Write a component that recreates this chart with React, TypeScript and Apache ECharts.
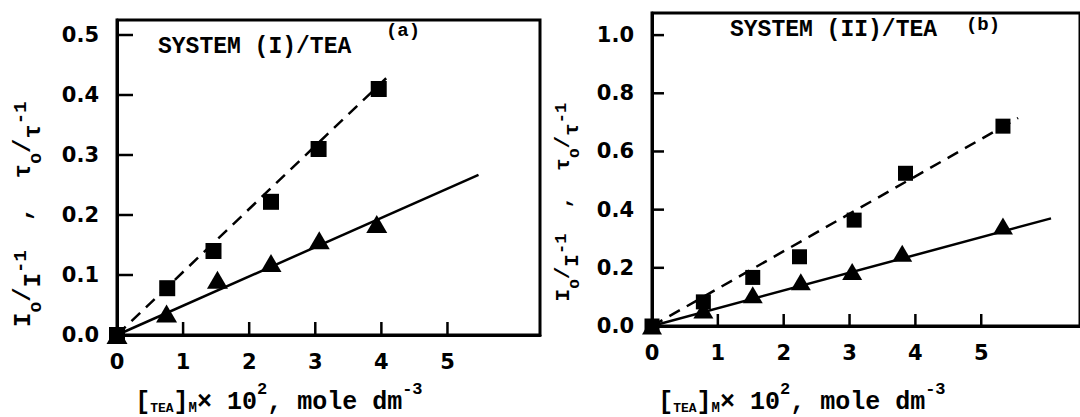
import React, { useEffect, useRef } from "react";
import * as echarts from "echarts";

// ---------- data ----------
const xTickLabels = [0, 1, 2, 3, 4, 5];
const xTickMarks = [1, 2, 3, 4, 5];
const yTickLabelsA = [0, 0.1, 0.2, 0.3, 0.4, 0.5];
const yTickMarksA = [0.1, 0.2, 0.3, 0.4, 0.5];
const yTickLabelsB = [0, 0.2, 0.4, 0.6, 0.8, 1.0];
const yTickMarksB = [0.2, 0.4, 0.6, 0.8, 1.0];

// panel (a) SYSTEM (I)/TEA
const teaA_sq = [0, 0.76, 1.46, 2.33, 3.05, 3.96];
const valA_sq = [0, 0.078, 0.14, 0.222, 0.31, 0.41];
const teaA_tri = [0, 0.75, 1.52, 2.33, 3.06, 3.93];
const valA_tri = [0, 0.036, 0.092, 0.12, 0.158, 0.185];
const fitA_dashX = [0, 4.14];
const fitA_dashY = [0, 0.435];
const fitA_solidX = [0, 5.47];
const fitA_solidY = [0, 0.267];

// panel (b) SYSTEM (II)/TEA
const teaB_sq = [0, 0.78, 1.53, 2.24, 3.07, 3.85, 5.33];
const valB_sq = [0, 0.083, 0.167, 0.238, 0.364, 0.525, 0.687];
const teaB_tri = [0, 0.78, 1.53, 2.26, 3.04, 3.8, 5.33];
const valB_tri = [0, 0.055, 0.107, 0.152, 0.187, 0.25, 0.344];
const fitB_dashX = [0, 5.56];
const fitB_dashY = [0, 0.715];
const fitB_solidX = [0, 6.06];
const fitB_solidY = [0, 0.37];

const zip = (xs: number[], ys: number[]) => xs.map((x, i) => [x, ys[i]]);

const MONO = "Liberation Mono";
const TICKFONT = "DejaVu Sans";

const near = (a: number, list: number[]) => list.some((b) => Math.abs(a - b) < 1e-6);

function xAxisCfg(grid: number, max: number) {
  return {
    type: "value",
    gridIndex: grid,
    min: 0,
    max,
    interval: 1,
    axisLine: { show: true, onZero: false, lineStyle: { color: "#000", width: 3 } },
    axisTick: { show: false },
    axisLabel: {
      margin: 16,
      color: "#000",
      fontFamily: TICKFONT,
      fontWeight: "bold",
      fontSize: 21,
      showMaxLabel: false,
      formatter: (v: number) => (near(v, xTickLabels) ? String(v) : ""),
    },
    splitLine: { show: false },
  };
}

function yAxisCfg(grid: number, max: number, interval: number, labels: number[]) {
  return {
    type: "value",
    gridIndex: grid,
    min: 0,
    max,
    interval,
    axisLine: { show: true, onZero: false, lineStyle: { color: "#000", width: 3 } },
    axisTick: { show: false },
    axisLabel: {
      margin: 18,
      color: "#000",
      fontFamily: TICKFONT,
      fontWeight: "bold",
      fontSize: 21,
      showMaxLabel: false,
      formatter: (v: number) => (near(v, labels) ? v.toFixed(1) : ""),
    },
    splitLine: { show: false },
  };
}

// inward tick marks drawn as thin bar-shaped symbols anchored on the axes
function tickMarkSeries(grid: number, values: number[], dir: string, len: number) {
  return {
    type: "scatter",
    xAxisIndex: grid,
    yAxisIndex: grid,
    silent: true,
    data: values.map((v) => (dir === "x" ? [v, 0] : [0, v])),
    symbol: "rect",
    symbolSize: dir === "x" ? [2.5, len] : [len, 2.5],
    symbolOffset: dir === "x" ? [0, "-50%"] : ["50%", 0],
    itemStyle: { color: "#000", opacity: 1 },
    z: 4,
  };
}

function yNameRich(main: number, sub: number, sup: number, block: number) {
  return {
    m: { fontFamily: MONO, fontWeight: "bold", fontSize: main, lineHeight: main, verticalAlign: "top", fill: "#000" },
    d: { fontFamily: MONO, fontWeight: "bold", fontSize: main, lineHeight: main, verticalAlign: "bottom", fill: "#000" },
    s: { fontFamily: MONO, fontWeight: "bold", fontSize: sub, lineHeight: sub, verticalAlign: "bottom", fill: "#000" },
    p: { fontFamily: MONO, fontWeight: "bold", fontSize: sup, lineHeight: sup, verticalAlign: "top", fill: "#000" },
    sp: { fontSize: 1, lineHeight: block },
  };
}
const yNameText = "{m|I}{s|o}{m|/}{d|I}{p|-1}{m|  ,  }{m|τ}{s|o}{m|/}{d|τ}{p|-1}{sp| }";

const xNameRich = {
  br: { fontFamily: MONO, fontWeight: "bold", fontSize: 25, lineHeight: 24, verticalAlign: "bottom", fill: "#000" },
  tea: { fontFamily: MONO, fontWeight: "bold", fontSize: 13, lineHeight: 24, verticalAlign: "bottom", fill: "#000" },
  t: { fontFamily: MONO, fontWeight: "bold", fontSize: 25, lineHeight: 24, verticalAlign: "bottom", fill: "#000" },
  sub: { fontFamily: MONO, fontWeight: "bold", fontSize: 14, lineHeight: 14, verticalAlign: "bottom", fill: "#000" },
  sup: { fontFamily: MONO, fontWeight: "bold", fontSize: 17, lineHeight: 12, verticalAlign: "top", fill: "#000" },
  sp: { fontSize: 1, lineHeight: 34 },
};
const xNameText = "{br|[}{tea|TEA}{br|]}{sub|M}{t|× 10}{sup|2}{t|, mole dm}{sup|-3}{sp| }";

export default function App() {
  const ref = useRef<HTMLDivElement>(null);
  useEffect(() => {
    document.body.style.margin = "0";
    if (!ref.current) return;
    const chart = echarts.init(ref.current, null, { renderer: "svg" });
    const dashed = { color: "#000", width: 2.5, type: [12, 8] };
    const solid = { color: "#000", width: 2.5, type: "solid" };
    const mark = { color: "#000", opacity: 1 };
    const option: any = {
      animation: false,
      backgroundColor: "#fff",
      grid: [
        { left: 117, top: 20, width: 423, height: 315, show: true, borderColor: "#000", borderWidth: 3 },
        { left: 652, top: 13, width: 431, height: 313, show: true, borderColor: "#000", borderWidth: 3 },
      ],
      xAxis: [xAxisCfg(0, 6.4), xAxisCfg(1, 6.5)],
      yAxis: [yAxisCfg(0, 0.525, 0.1, yTickLabelsA), yAxisCfg(1, 1.076, 0.2, yTickLabelsB)],
      series: [
        tickMarkSeries(0, xTickMarks, "x", 13),
        tickMarkSeries(0, yTickMarksA, "y", 16),
        tickMarkSeries(1, xTickMarks, "x", 12),
        tickMarkSeries(1, yTickMarksB, "y", 12),
        { type: "line", xAxisIndex: 0, yAxisIndex: 0, data: zip(fitA_dashX, fitA_dashY), showSymbol: false, lineStyle: dashed, z: 2 },
        { type: "line", xAxisIndex: 0, yAxisIndex: 0, data: zip(fitA_solidX, fitA_solidY), showSymbol: false, lineStyle: solid, z: 2 },
        { type: "scatter", xAxisIndex: 0, yAxisIndex: 0, data: zip(teaA_sq, valA_sq), symbol: "rect", symbolSize: 16, itemStyle: mark, z: 3 },
        { type: "scatter", xAxisIndex: 0, yAxisIndex: 0, data: zip(teaA_tri, valA_tri), symbol: "triangle", symbolSize: [21, 18], itemStyle: mark, z: 3 },
        { type: "line", xAxisIndex: 1, yAxisIndex: 1, data: zip(fitB_dashX, fitB_dashY), showSymbol: false, lineStyle: dashed, z: 2 },
        { type: "line", xAxisIndex: 1, yAxisIndex: 1, data: zip(fitB_solidX, fitB_solidY), showSymbol: false, lineStyle: solid, z: 2 },
        { type: "scatter", xAxisIndex: 1, yAxisIndex: 1, data: zip(teaB_sq, valB_sq), symbol: "rect", symbolSize: 15, itemStyle: mark, z: 3 },
        { type: "scatter", xAxisIndex: 1, yAxisIndex: 1, data: zip(teaB_tri, valB_tri), symbol: "triangle", symbolSize: [20, 17], itemStyle: mark, z: 3 },
      ],
      graphic: [
        { type: "text", x: 158, y: 47, style: { text: "SYSTEM (I)/TEA", fontFamily: MONO, fontWeight: "bold", fontSize: 23, fill: "#000", align: "left", verticalAlign: "middle" } },
        { type: "text", x: 403, y: 31, style: { text: "(a)", fontFamily: MONO, fontWeight: "bold", fontSize: 19, fill: "#000", align: "center", verticalAlign: "middle" } },
        { type: "text", x: 730, y: 30, style: { text: "SYSTEM (II)/TEA", fontFamily: MONO, fontWeight: "bold", fontSize: 23, fill: "#000", align: "left", verticalAlign: "middle" } },
        { type: "text", x: 983, y: 25, style: { text: "(b)", fontFamily: MONO, fontWeight: "bold", fontSize: 19, fill: "#000", align: "center", verticalAlign: "middle" } },
        { type: "text", x: 279, y: 381, style: { text: xNameText, rich: xNameRich, align: "center", verticalAlign: "top" } },
        { type: "text", x: 802, y: 381, style: { text: xNameText, rich: xNameRich, align: "center", verticalAlign: "top" } },
        { type: "text", x: 28, y: 214, rotation: Math.PI / 2, style: { text: yNameText, rich: yNameRich(24, 18, 19, 34), align: "center", verticalAlign: "middle" } },
        { type: "text", x: 568, y: 202, rotation: Math.PI / 2, style: { text: yNameText, rich: yNameRich(21, 16, 17, 30), align: "center", verticalAlign: "middle" } },
      ],
    };
    chart.setOption(option);
    return () => chart.dispose();
  }, []);
  return <div ref={ref} style={{ width: 1080, height: 417 }} />;
}
